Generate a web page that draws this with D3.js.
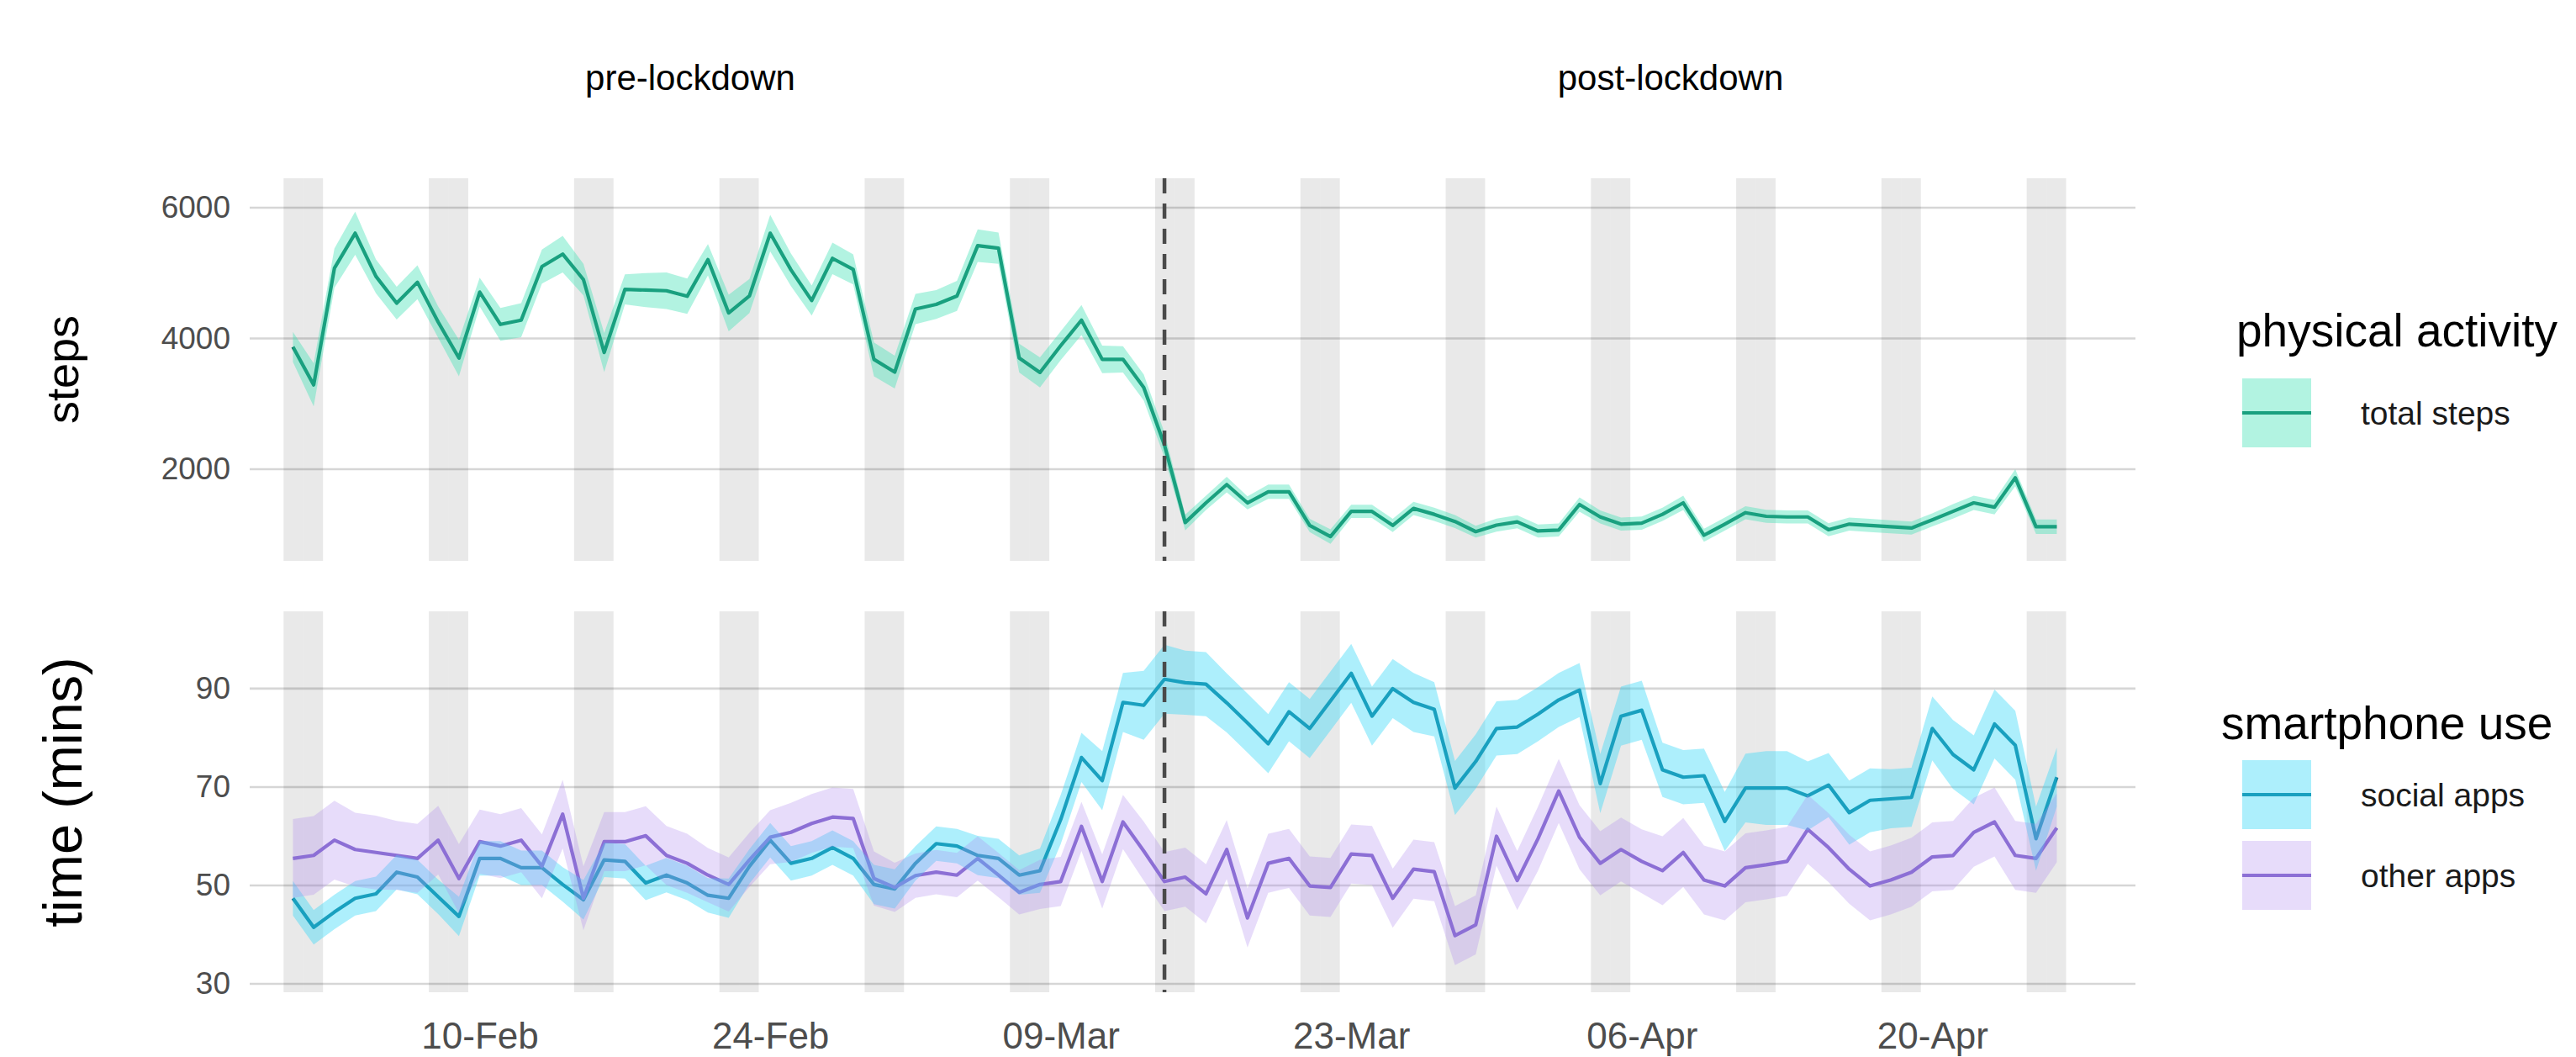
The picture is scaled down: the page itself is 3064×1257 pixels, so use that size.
<!DOCTYPE html>
<html>
<head>
<meta charset="utf-8">
<script src="https://cdn.jsdelivr.net/npm/d3@7"></script>
<style>
  body { margin: 0; background: #ffffff; }
  svg { display: block; }
  text { font-family: "Liberation Sans", Arial, Helvetica, sans-serif; }
</style>
</head>
<body>
<svg id="chart" width="3064" height="1257"></svg>
<script>
// ---- data -------------------------------------------------------------
const firstDay = "2020-02-01";
const lastDay = "2020-04-26";
const lockdownDay = "2020-03-14";

const stepTicks = [2000, 4000, 6000];
const minuteTicks = [30, 50, 70, 90];
const dateTicks = ["2020-02-10", "2020-02-24", "2020-03-09", "2020-03-23", "2020-04-06", "2020-04-20"];

// daily mean of total steps and its band half-width
const totalSteps = [
  3870, 3290, 5075, 5610, 4950, 4540, 4860, 4250, 3700, 4710,
  4215, 4280, 5100, 5290, 4900, 3785, 4750, 4740, 4730, 4645,
  5205, 4390, 4650, 5610, 5050, 4580, 5225, 5055, 3680, 3485,
  4450, 4520, 4650, 5420, 5380, 3700, 3480, 3890, 4280, 3680,
  3680, 3250, 2370, 1185, 1485, 1765, 1485, 1655, 1655, 1140,
  970, 1355, 1355, 1140, 1400, 1310, 1200, 1045, 1145, 1195,
  1055, 1070, 1460, 1270, 1160, 1175, 1310, 1485, 990, 1160,
  1335, 1280, 1270, 1270, 1075, 1160, 1140, 1120, 1100, 1225,
  1355, 1485, 1420, 1870, 1120, 1120
];
const totalStepsSe = [
  230, 330, 300, 330, 260, 250, 260, 240, 280, 220,
  250, 260, 260, 280, 240, 300, 230, 260, 280, 270,
  240, 280, 260, 280, 250, 230, 240, 230, 260, 250,
  230, 220, 230, 250, 240, 220, 230, 220, 230, 210,
  200, 200, 190, 120, 110, 120, 100, 110, 110, 100,
  110, 100, 100, 100, 100, 100, 100, 90, 100, 100,
  100, 100, 110, 100, 100, 100, 100, 110, 100, 100,
  100, 100, 100, 100, 100, 100, 100, 100, 100, 100,
  110, 110, 110, 130, 110, 110
];

// daily mean minutes in social apps and in other apps, with band half-widths
const socialApps = [
  47.4, 41.5, 44.6, 47.4, 48.3, 52.7, 51.7, 47.7, 43.7, 55.5,
  55.5, 53.6, 53.6, 50.2, 47.1, 55.2, 54.9, 50.5, 52.1, 50.5,
  48.0, 47.4, 53.9, 59.2, 54.5, 55.5, 57.7, 55.5, 50.2, 49.3,
  54.5, 58.5, 58.0, 56.1, 55.5, 52.1, 53.0, 63.4, 76.0, 71.3,
  87.2, 86.6, 91.9, 91.2, 90.9, 87.1, 83.0, 78.8, 85.3, 81.9,
  87.5, 93.1, 84.4, 90.0, 87.2, 85.8, 69.8, 75.2, 81.9, 82.2,
  84.8, 87.7, 89.7, 70.7, 84.4, 85.6, 73.5, 72.0, 72.3, 63.0,
  69.8, 69.8, 69.8, 68.2, 70.4, 64.8, 67.3, 67.6, 67.9, 81.9,
  76.6, 73.5, 82.8, 78.5, 59.5, 72.0
];
const socialAppsSe = [
  3.5, 3.5, 3.5, 3.5, 3.5, 3.5, 3.5, 3.5, 4.0, 3.5,
  3.5, 3.5, 3.5, 3.5, 4.0, 3.5, 3.5, 3.5, 3.5, 3.5,
  3.5, 4.0, 3.5, 3.5, 3.5, 3.5, 3.5, 3.5, 4.0, 4.0,
  3.5, 3.5, 3.5, 4.0, 4.0, 4.0, 4.5, 5.0, 5.0, 6.0,
  6.0, 7.0, 7.0, 6.5, 6.5, 6.0, 6.0, 6.0, 6.0, 6.0,
  6.0, 6.0, 6.0, 6.0, 6.0, 5.5, 5.5, 5.5, 5.5, 5.5,
  5.5, 5.5, 5.5, 6.0, 6.0, 6.0, 5.5, 5.5, 5.5, 6.0,
  7.0, 7.5, 7.5, 7.0, 6.5, 6.5, 6.5, 6.0, 6.0, 6.5,
  7.0, 7.0, 7.0, 7.0, 6.5, 6.0
];
const otherApps = [
  55.5, 56.1, 59.2, 57.3, 56.7, 56.1, 55.5, 59.2, 51.4, 58.9,
  58.0, 59.2, 53.9, 64.5, 47.4, 58.9, 58.9, 60.1, 56.1, 54.5,
  52.1, 50.2, 55.2, 59.8, 60.8, 62.6, 63.9, 63.6, 51.4, 49.6,
  52.0, 52.7, 52.1, 55.5, 52.1, 48.6, 50.2, 50.8, 62.0, 50.8,
  62.9, 57.0, 50.8, 51.7, 48.3, 57.3, 43.4, 54.5, 55.5, 49.9,
  49.6, 56.4, 56.1, 47.4, 53.3, 52.8, 39.8, 42.0, 60.0, 51.0,
  59.5, 69.2, 59.8, 54.5, 57.3, 54.9, 53.0, 56.7, 51.1, 49.9,
  53.6, 54.2, 54.9, 61.4, 57.7, 53.3, 49.9, 51.1, 52.7, 55.8,
  56.1, 60.8, 62.9, 56.1, 55.5, 61.7
];
const otherAppsSe = [
  8.0, 8.0, 8.0, 7.5, 7.5, 7.0, 7.0, 7.0, 7.0, 6.5,
  6.5, 6.5, 6.5, 7.0, 6.5, 6.0, 6.0, 6.0, 6.0, 6.0,
  5.5, 5.5, 5.5, 5.5, 6.0, 6.0, 6.0, 6.0, 5.5, 5.0,
  4.5, 4.5, 4.5, 4.5, 4.5, 4.5, 5.0, 5.0, 5.0, 5.5,
  5.5, 6.0, 6.0, 6.0, 6.0, 6.0, 6.0, 6.0, 6.0, 6.0,
  6.0, 6.0, 6.0, 6.0, 6.0, 6.0, 6.0, 6.0, 6.0, 6.0,
  6.5, 6.5, 6.5, 6.5, 6.5, 6.5, 7.0, 7.0, 7.0, 7.0,
  7.0, 7.0, 7.0, 7.0, 7.0, 7.0, 7.0, 7.0, 7.0, 7.0,
  7.0, 7.0, 7.0, 7.0, 7.0, 7.0
];

// ---- helpers ----------------------------------------------------------
const parse = d3.utcParse("%Y-%m-%d");
const start = parse(firstDay);
const end = parse(lastDay);
const days = d3.utcDays(start, d3.utcDay.offset(end, 1));
const weekendDays = days.filter(d => d.getUTCDay() === 0 || d.getUTCDay() === 6);

const rows = (vals, se) => days.map((d, i) => ({ date: d, v: vals[i], lo: vals[i] - se[i], hi: vals[i] + se[i] }));
const stepsRows = rows(totalSteps, totalStepsSe);
const socialRows = rows(socialApps, socialAppsSe);
const otherRows = rows(otherApps, otherAppsSe);

// ---- layout -----------------------------------------------------------
const plotLeft = 297, plotRight = 2540;
const topBox = { y0: 212, y1: 667 };
const botBox = { y0: 727, y1: 1180 };

const x = d3.scaleUtc()
  .domain([d3.utcHour.offset(start, -50), d3.utcHour.offset(end, 91)])
  .range([plotLeft, plotRight]);

const yTop = d3.scaleLinear().domain([598, 6450]).range([topBox.y1, topBox.y0]);
const yBot = d3.scaleLinear().domain([28.3, 105.7]).range([botBox.y1, botBox.y0]);

const colors = {
  steps:  { line: "#00765c", fill: "#3fe0b5", op: 0.4 },
  social: { line: "#097c9a", fill: "#33d6f7", op: 0.4 },
  other:  { line: "#7d63cb", fill: "#b08cf0", op: 0.3 }
};

const svg = d3.select("#chart");
const dayW = x(d3.utcDay.offset(start, 1)) - x(start);

// weekend shading: Saturday and Sunday tiles, trimmed slightly at the outer edges
function weekendSpan(d) {
  const sat = d.getUTCDay() === 6;
  const x0 = x(d) - (sat ? 0.45 : 0.5) * dayW;
  const x1 = x(d) + (sat ? 0.5 : 0.45) * dayW;
  return [x0, x1];
}

function panel(y, box, ticks, series) {
  const g = svg.append("g");
  // horizontal grid
  g.selectAll("line.grid").data(ticks).join("line")
    .attr("x1", plotLeft).attr("x2", plotRight)
    .attr("y1", d => y(d)).attr("y2", d => y(d))
    .attr("stroke", "#d6d6d6").attr("stroke-width", 2.6);
  g.selectAll("rect.wk").data(weekendDays).join("rect")
    .attr("x", d => weekendSpan(d)[0])
    .attr("width", d => weekendSpan(d)[1] - weekendSpan(d)[0])
    .attr("y", box.y0).attr("height", box.y1 - box.y0)
    .attr("fill", "#000").attr("fill-opacity", 0.085);
  // lines, then confidence bands above them
  series.forEach(s => {
    g.append("path").datum(s.rows)
      .attr("fill", "none").attr("stroke", s.c.line).attr("stroke-width", 4.2)
      .attr("stroke-linejoin", "round")
      .attr("d", d3.line().x(d => x(d.date)).y(d => y(d.v)));
  });
  series.forEach(s => {
    g.append("path").datum(s.rows)
      .attr("fill", s.c.fill).attr("fill-opacity", s.c.op)
      .attr("d", d3.area().x(d => x(d.date)).y0(d => y(d.lo)).y1(d => y(d.hi)));
  });
  // lockdown marker
  g.append("line")
    .attr("x1", x(parse(lockdownDay))).attr("x2", x(parse(lockdownDay)))
    .attr("y1", box.y0).attr("y2", box.y1)
    .attr("stroke", "#4a4a4a").attr("stroke-width", 4.5).attr("stroke-dasharray", "18,12");
  // y axis
  const ax = g.append("g").attr("transform", `translate(${plotLeft},0)`)
    .call(d3.axisLeft(y).tickValues(ticks).tickSize(0).tickPadding(23).tickFormat(d3.format("d")));
  ax.select(".domain").remove();
  ax.selectAll("text").attr("font-size", 37).attr("fill", "#4d4d4d")
    .style("font-family", '"Liberation Sans", Arial, sans-serif');
  return g;
}

panel(yTop, topBox, stepTicks, [{ rows: stepsRows, c: colors.steps }]);
panel(yBot, botBox, minuteTicks, [
  { rows: socialRows, c: colors.social },
  { rows: otherRows, c: colors.other }
]);

// x axis
const xa = svg.append("g").attr("transform", `translate(0,${botBox.y1})`)
  .call(d3.axisBottom(x).tickValues(dateTicks.map(parse)).tickSize(0).tickPadding(36)
    .tickFormat(d3.utcFormat("%d-%b")));
xa.select(".domain").remove();
xa.selectAll("text").attr("font-size", 44).attr("fill", "#4d4d4d")
  .style("font-family", '"Liberation Sans", Arial, sans-serif');

// axis titles
const axisTitle = (txt, cy, size) => svg.append("text")
  .attr("transform", `translate(74,${cy}) rotate(-90)`)
  .attr("text-anchor", "middle").attr("dominant-baseline", "central")
  .attr("font-size", size).attr("fill", "#000").text(txt);
axisTitle("steps", (topBox.y0 + topBox.y1) / 2, 54);
axisTitle("time (mins)", 942, 65);

// period headers
svg.append("text").attr("x", 821).attr("y", 92).attr("text-anchor", "middle")
  .attr("dominant-baseline", "central").attr("font-size", 42).attr("fill", "#000").text("pre-lockdown");
svg.append("text").attr("x", 1987).attr("y", 92).attr("text-anchor", "middle")
  .attr("dominant-baseline", "central").attr("font-size", 42).attr("fill", "#000").text("post-lockdown");

// legends
function legend(title, titleX, titleY, items) {
  const g = svg.append("g");
  g.append("text").attr("x", titleX).attr("y", titleY).attr("dominant-baseline", "central")
    .attr("font-size", 55).attr("fill", "#000").text(title);
  items.forEach(it => {
    const kx = 2667, kw = 82, kh = 82, ky = it.cy - kh / 2;
    g.append("line").attr("x1", kx).attr("x2", kx + kw).attr("y1", it.cy).attr("y2", it.cy)
      .attr("stroke", it.c.line).attr("stroke-width", 4.2);
    g.append("rect").attr("x", kx).attr("y", ky).attr("width", kw).attr("height", kh)
      .attr("fill", it.c.fill).attr("fill-opacity", it.c.op);
    g.append("text").attr("x", 2808).attr("y", it.cy).attr("dominant-baseline", "central")
      .attr("font-size", 39).attr("fill", "#1a1a1a").text(it.label);
  });
}
legend("physical activity", 2660, 393, [{ label: "total steps", cy: 491, c: colors.steps }]);
legend("smartphone use", 2642, 860, [
  { label: "social apps", cy: 945, c: colors.social },
  { label: "other apps", cy: 1041, c: colors.other }
]);
</script>
</body>
</html>
